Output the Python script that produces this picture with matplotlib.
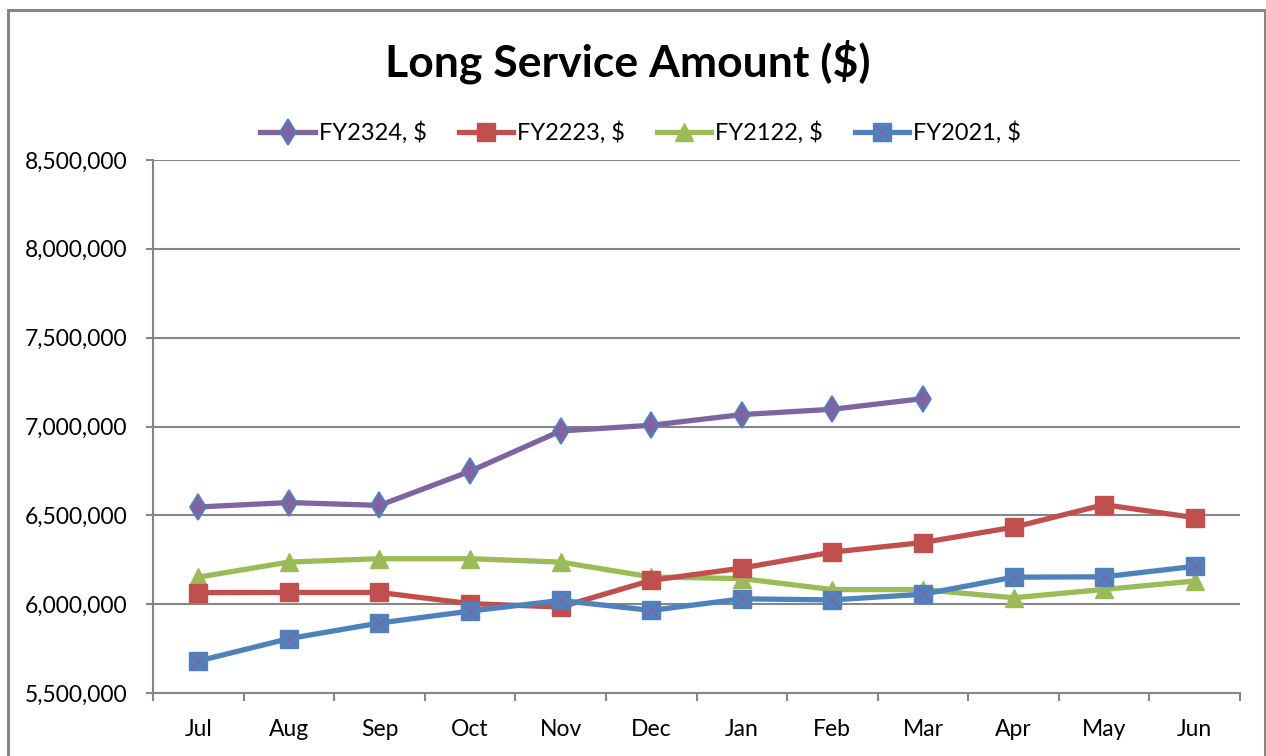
import numpy as np
import matplotlib.pyplot as plt
from matplotlib.patches import Rectangle
from matplotlib.ticker import FuncFormatter, FixedLocator
from matplotlib.legend_handler import HandlerTuple

plt.rcParams['font.family'] = ['Lato', 'DejaVu Sans']

months = ['Jul', 'Aug', 'Sep', 'Oct', 'Nov', 'Dec', 'Jan', 'Feb', 'Mar', 'Apr', 'May', 'Jun']

fy2324 = [6547000, 6572000, 6556000, 6748000, 6975000, 7007000, 7067000, 7097000, 7157000]
fy2223 = [6065000, 6066000, 6066000, 6003000, 5984000, 6134000, 6203000, 6293000, 6347000, 6433000, 6560000, 6487000]
fy2122 = [6152000, 6237000, 6256000, 6256000, 6237000, 6153000, 6144000, 6082000, 6082000, 6036000, 6083000, 6130000]
fy2021 = [5680000, 5806000, 5894000, 5961000, 6021000, 5965000, 6030000, 6024000, 6056000, 6152000, 6154000, 6213000]

PURPLE = '#8064A2'
RED = '#C0504D'
GREEN = '#9BBB59'
BLUE = '#4F81BD'
GRID = '#868686'

fig = plt.figure(figsize=(12.66, 7.56), dpi=100)
ax = fig.add_axes([153 / 1266, 1 - 693 / 756, 1087 / 1266, 533 / 756])

x = np.arange(len(months))
lw = 3.8

l1, = ax.plot(x[:len(fy2324)], fy2324, color=PURPLE, lw=lw, marker='d', ms=13,
              mfc=PURPLE, mec=BLUE, mew=1.2, zorder=5)
l2, = ax.plot(x, fy2223, color=RED, lw=lw, marker='s', ms=13.5, mfc=RED, mec=RED, zorder=4)
l3, = ax.plot(x, fy2122, color=GREEN, lw=lw, marker='^', ms=13.5, mfc=GREEN, mec=GREEN, zorder=3)
l4, = ax.plot(x, fy2021, color=BLUE, lw=lw, marker='s', ms=13.5, mfc=BLUE, mec=BLUE, zorder=6)
l4x, = ax.plot(x, fy2021, ls='none', marker='x', ms=10.5, mec=PURPLE, mew=1.0, zorder=7)

ax.set_xlim(-0.5, 11.5)
ax.set_ylim(5500000, 8500000)
ax.set_yticks(np.arange(5500000, 8500001, 500000))
ax.yaxis.set_major_formatter(FuncFormatter(lambda v, p: f'{int(v):,}'))
ax.set_xticks(x)
ax.set_xticklabels(months)
ax.xaxis.set_minor_locator(FixedLocator(np.arange(-0.5, 12, 1)))

ax.tick_params(axis='x', which='major', length=0, labelsize=16.5, pad=19)
ax.tick_params(axis='x', which='minor', length=5.8, width=1.5, color=GRID)
ax.tick_params(axis='y', length=5, width=1.5, color=GRID, labelsize=16.5, pad=13.5)

ax.grid(axis='y', color=GRID, lw=1.5)
ax.set_axisbelow(True)
for s in ['top', 'right']:
    ax.spines[s].set_visible(False)
for s in ['left', 'bottom']:
    ax.spines[s].set_color(GRID)
    ax.spines[s].set_linewidth(1.5)

fig.text(0.496, 1 - 62 / 756, 'Long Service Amount ($)', ha='center', va='center',
         fontsize=32, fontweight='bold')

fig.legend([l1, l2, l3, (l4, l4x)], ['FY2324, $', 'FY2223, $', 'FY2122, $', 'FY2021, $'],
           handler_map={tuple: HandlerTuple(ndivide=1)},
           loc='center', bbox_to_anchor=(0.506, 1 - 133 / 756), ncol=4, frameon=False,
           fontsize=17, handlelength=2.3, handletextpad=0.17, columnspacing=1.35)

# outer chart border
fig.patches.append(Rectangle((8 / 1266, -0.05), 1257 / 1266, 1.05 - 10 / 756,
                             transform=fig.transFigure, fill=False, ec=GRID, lw=2.2))

fig.savefig('out.png', dpi=100, facecolor='white')
